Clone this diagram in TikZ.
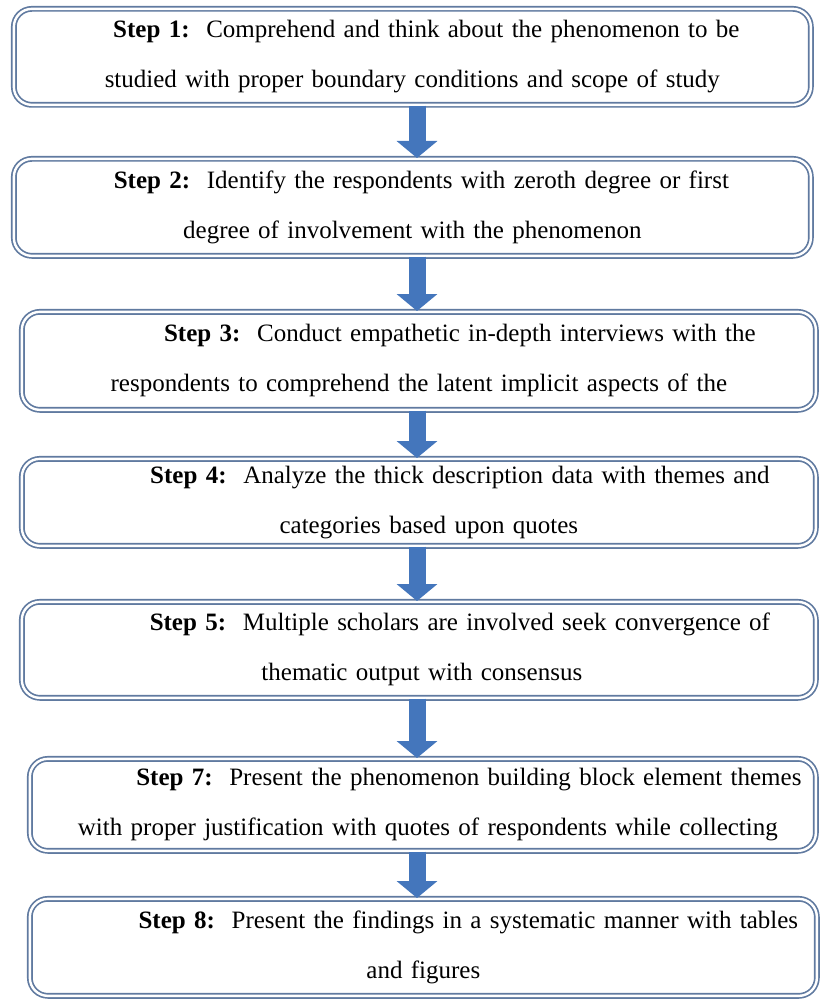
\documentclass[tikz,border=0pt]{standalone}
\usepackage{fontspec}
\setmainfont{Liberation Serif}
\usepackage{tikz}
\usetikzlibrary{arrows.meta,positioning}
\definecolor{boxblue}{RGB}{96,122,160}
\definecolor{arrblue}{RGB}{68,118,188}
\tikzset{
  stepbox/.style = {draw=boxblue, double=white, double distance=1.2pt,
    line width=0.85pt, rounded corners=9pt, anchor=north west,
    align=center, inner sep=0pt, text width=#1,
    font=\fontsize{12.5}{25}\selectfont},% one step of the procedure
  stepdown/.style = {draw=arrblue, line width=8.5pt,
    -{Triangle[width=20pt,length=8.5pt]}}% fat arrow between the steps
}

\begin{document}
\begin{tikzpicture}[x=0.5pt,y=-0.5pt]
  \useasboundingbox (0,0) rectangle (819,1000);
  \coordinate (ax) at (417,0);
  \node [stepbox=398.5pt, minimum height=48pt](s1) at (13,8)
    {\hspace*{14pt}\textbf{Step 1:}\ \ Comprehend and think about the phenomenon to be\\
     studied with proper boundary conditions and scope of study};
  \node [stepbox=398.5pt, minimum height=48.5pt](s2) at (13,158)
    {\hspace*{9pt}\textbf{Step 2:}\ \ Identify the respondents with zeroth degree or first\\
     degree of involvement with the phenomenon};
  \node [stepbox=397pt, minimum height=49pt](s3) at (21,311)
    {\hspace*{41pt}\textbf{Step 3:}\ \ Conduct empathetic in-depth interviews with the\\
     respondents to comprehend the latent implicit aspects of the};
  \node [stepbox=397pt, minimum height=43.5pt](s4) at (21,458)
    {\hspace*{41pt}\textbf{Step 4:}\ \ Analyze the thick description data with themes and\\
     \hspace*{10pt}categories based upon quotes};
  \node [stepbox=397pt, minimum height=48pt](s5) at (21,601)
    {\hspace*{41pt}\textbf{Step 5:}\ \ Multiple scholars are involved seek convergence of\\
     \hspace*{3pt}thematic output with consensus};
  \node [stepbox=393pt, minimum height=46pt](s7) at (29,758)
    {\hspace*{46pt}\textbf{Step 7:}\ \ Present the phenomenon building block element themes\\
     \hspace*{5pt}with proper justification with quotes of respondents while collecting};
  \node [stepbox=393.5pt, minimum height=48.5pt](s8) at (29,898)
    {\hspace*{45pt}\textbf{Step 8:}\ \ Present the findings in a systematic manner with tables\\
     and figures};

  \draw [stepdown] (s1.south -| ax) -- (s2.north -| ax);
  \draw [stepdown] (s2.south -| ax) -- (s3.north -| ax);
  \draw [stepdown] (s3.south -| ax) -- (s4.north -| ax);
  \draw [stepdown] (s4.south -| ax) -- (s5.north -| ax);
  \draw [stepdown] (s5.south -| ax) -- (s7.north -| ax);
  \draw [stepdown] (s7.south -| ax) -- (s8.north -| ax);
\end{tikzpicture}
\end{document}
